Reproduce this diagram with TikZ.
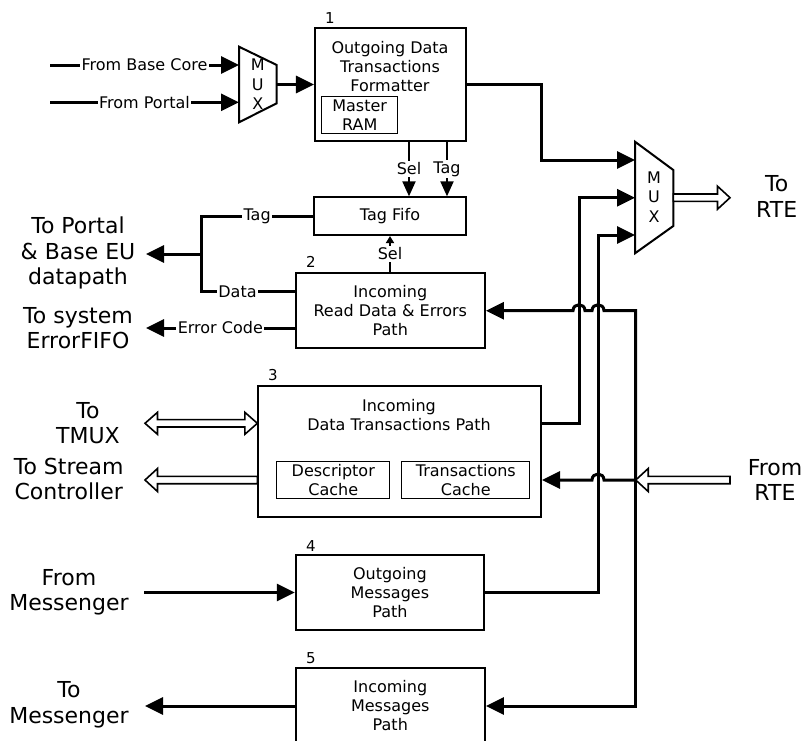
\documentclass[tikz,border=0pt]{standalone}
\usepackage{fontspec}
\setmainfont{DejaVu Sans}
\usetikzlibrary{arrows.meta,calc}

\newcommand\hollowRight[2]{\draw[hollow] ($(#1)+(0,-3.7)$) -- ($(#2)+(-12.5,-3.7)$) -- ($(#2)+(-12.5,-11.5)$) -- (#2) -- ($(#2)+(-12.5,11.5)$) -- ($(#2)+(-12.5,3.7)$) -- ($(#1)+(0,3.7)$) -- cycle;}
\newcommand\hollowLeft[2]{\draw[hollow] ($(#1)+(0,-3.7)$) -- ($(#2)+(12.5,-3.7)$) -- ($(#2)+(12.5,-11.5)$) -- (#2) -- ($(#2)+(12.5,11.5)$) -- ($(#2)+(12.5,3.7)$) -- ($(#1)+(0,3.7)$) -- cycle;}
\newcommand\hollowBoth[2]{\draw[hollow] (#1) -- ($(#1)+(12.5,-11)$) -- ($(#1)+(12.5,-3.7)$) -- ($(#2)+(-12.5,-3.7)$) -- ($(#2)+(-12.5,-11)$) -- (#2) -- ($(#2)+(-12.5,11)$) -- ($(#2)+(-12.5,3.7)$) -- ($(#1)+(12.5,3.7)$) -- ($(#1)+(12.5,11)$) -- cycle;}

\newcommand\wirefnt{\fontsize{16pt}{19pt}\selectfont}
\newcommand\numfnt{\fontsize{15pt}{18pt}\selectfont}
\newcommand\muxfnt{\fontsize{16pt}{19.5pt}\selectfont}

\tikzset{
 box/.style={draw, line width=2pt, inner sep=0pt, align=center, font=\fontsize{16}{19}\selectfont},
 inbox/.style={draw, line width=1pt, inner sep=0pt, align=center, font=\fontsize{16}{19}\selectfont},
 txt/.style={align=center, inner sep=0pt, font=\fontsize{16}{19}\selectfont},
 big/.style={align=center, inner sep=0pt, font=\fontsize{22}{25.5}\selectfont},
 num/.style={inner sep=0pt, font=\numfnt},
 muxt/.style={align=center, inner sep=0pt, font=\muxfnt},
 wl/.style={fill=white, inner sep=1.5pt, font=\wirefnt},
 wire/.style={line width=3pt, line join=miter},
 arr/.style={wire, -{Triangle[length=18pt,width=17pt]}},
 sig/.style={line width=2pt, -{Triangle[length=15pt,width=13pt]}},
 hollow/.style={draw, fill=white, line width=1.6pt, line join=miter},
 muxs/.style={draw, line width=2pt, line join=miter},
}

\begin{document}
\begin{tikzpicture}[x=1pt,y=-1pt]
\clip (0,0) rectangle (803,740);

% ---------- boxes ----------
\node[box, minimum width=150.7pt, minimum height=112.4pt] (b1) at (390.3,84.5) {};
\node[txt] (b1t) at (390,67) {Outgoing Data\\Transactions\\Formatter};
\node[inbox, minimum width=76pt, minimum height=37.3pt] (ram) at (359.7,114.7) {Master\\RAM};
\node[num] (n1) at (330,18) {1};

\node[box, minimum width=151.4pt, minimum height=37.7pt] (fifo) at (390,216.2) {Tag Fifo};

\node[box, minimum width=189.3pt, minimum height=75pt] (b2) at (390.3,310.2) {Incoming\\Read Data \& Errors\\Path};
\node[num] (n2) at (311,261.7) {2};

\node[box, minimum width=282.7pt, minimum height=130.7pt] (b3) at (399.7,451.3) {};
\node[txt] (b3t) at (399,415) {Incoming\\Data Transactions Path};
\node[inbox, minimum width=113.3pt, minimum height=37.3pt] (desc) at (333.3,479.7) {Descriptor\\Cache};
\node[inbox, minimum width=128.3pt, minimum height=37.3pt] (tc) at (465.8,479.7) {Transactions\\Cache};
\node[num] (n3) at (273,375) {3};

\node[box, minimum width=188.3pt, minimum height=75pt] (b4) at (389.9,592.5) {Outgoing\\Messages\\Path};
\node[num] (n4) at (311,545.7) {4};

\node[box, minimum width=189.3pt, minimum height=75pt] (b5) at (390.3,705.8) {Incoming\\Messages\\Path};
\node[num] (n5) at (311,658.3) {5};

% ---------- muxes ----------
\draw[muxs] (239,46.7) -- (276.7,65) -- (276.7,103.3) -- (239,122.3) -- cycle;
\node[muxt] (mux1t) at (257.8,84.3) {M\\U\\X};
\coordinate (m1a) at (239,65);
\coordinate (m1b) at (239,102.3);
\coordinate (m1o) at (276.7,84.5);

\draw[muxs] (635,141.7) -- (673.3,170) -- (673.3,226) -- (635,253.3) -- cycle;
\node[muxt] (mux2t) at (654,197) {M\\U\\X};
\coordinate (m2a) at (635,160);
\coordinate (m2b) at (635,197.7);
\coordinate (m2c) at (635,235);
\coordinate (m2o) at (673.3,197.7);

% ---------- outside labels ----------
\node[big] (lportal) at (78,253) {To Portal\\\& Base EU\\datapath};
\node[big] (lerr) at (78,328) {To system\\ErrorFIFO};
\node[big] (ltmux) at (88,423) {To\\TMUX};
\node[big] (lsc) at (68.7,479) {To Stream\\Controller};
\node[big] (lfm) at (69,592.5) {From\\Messenger};
\node[big] (ltm) at (69,705) {To\\Messenger};
\node[big] (lrte) at (776.7,196.5) {To\\RTE};
\node[big] (lfr) at (775,480) {From\\RTE};

% ---------- coordinates ----------
\coordinate (fbc) at (50,65);
\coordinate (fpo) at (50,102.3);
\coordinate (k1) at (541,160);
\coordinate (selx) at (409,0);
\coordinate (tagx) at (447,0);
\coordinate (tj) at (201,216.2);
\coordinate (dj) at (201,291.7);
\coordinate (pj) at (201,254);
\coordinate (po) at (146,254);
\coordinate (eo) at (146,328);
\coordinate (tmL) at (145,423.3);
\coordinate (tmR) at (b3.west |- tmL);
\coordinate (scL) at (145,480);
\coordinate (scR) at (b3.west |- scL);
\coordinate (v1) at (579,197.7);
\coordinate (v2) at (598,235);
\coordinate (J) at (635.7,480);
\coordinate (r2) at (635.7,310.7);
\coordinate (r5) at (635.7,706);
\coordinate (m5) at (145,706);
\coordinate (m4) at (144.3,592.5);
\coordinate (rteO) at (730,197.7);
\coordinate (rteI) at (730,480);

% ---------- connectors ----------
\draw[arr] (fbc) -- node[wl]{From Base Core} (m1a);
\draw[arr] (fpo) -- node[wl]{From Portal} (m1b);
\draw[arr] (m1o) -- (b1.west);
\draw[arr] (b1.east) -| (k1) -- (m2a);

\draw[sig] (b1.south -| selx) -- node[wl]{Sel} (fifo.north -| selx);
\draw[sig] (b1.south -| tagx) -- node[wl]{Tag} (fifo.north -| tagx);
\draw[line width=2pt, -{Triangle[length=7pt,width=8pt]}] (b2.north -| fifo.south) -- node[wl]{Sel} (fifo.south);

\draw[wire] (fifo.west) -- node[wl]{Tag} (tj) -- (dj) -- node[wl,pos=0.39]{Data} (b2.west |- dj);
\draw[arr] (pj) -- (po);
\draw[arr] (b2.west |- eo) -- node[wl]{Error Code} (eo);

\draw[arr] (b3.east |- tmL) -| (v1) -- (m2b);
\draw[arr] (b4.east) -| (v2) -- (m2c);

\draw[arr] (J) -- (r2) -- (604,310.7) .. controls (604,302.7) and (592,302.7) .. (592,310.7) -- (585,310.7) .. controls (585,302.7) and (573,302.7) .. (573,310.7) -- (b2.east |- r2);
\draw[arr] (J) -- (604,480) .. controls (604,472) and (592,472) .. (592,480) -- (b3.east |- J);
\draw[arr] (J) -- (r5) -- (b5.east |- r5);
\draw[arr] (b5.west |- m5) -- (m5);
\draw[arr] (m4) -- (b4.west);

\hollowRight{m2o}{rteO}
\hollowLeft{rteI}{J}
\hollowBoth{tmL}{tmR}
\hollowLeft{scR}{scL}
\end{tikzpicture}
\end{document}
